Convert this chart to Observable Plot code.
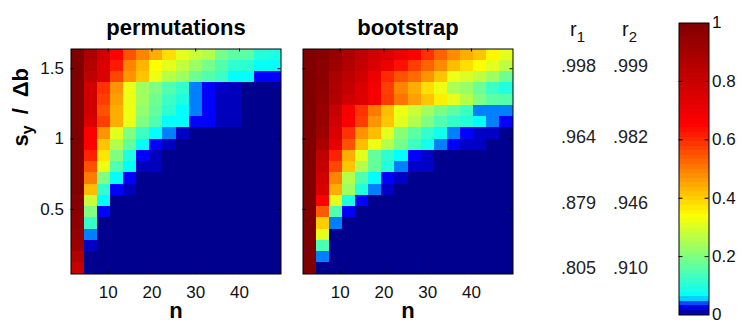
<!DOCTYPE html>
<html><head><meta charset="utf-8">
<script src="https://cdn.jsdelivr.net/npm/d3@7"></script>
<script src="https://cdn.jsdelivr.net/npm/@observablehq/plot@0.6"></script>
<style>
html,body{margin:0;padding:0;background:#fff;}
#chart{position:relative;width:740px;height:323px;overflow:hidden;}
#chart svg{position:absolute;left:0;top:0;}
</style></head><body><div id="chart"></div>
<script>
// ---- data ----
const nValues = [3,6,9,12,15,18,21,24,27,30,33,36,39,42,45,48];
// sy/Δb levels, rows listed from top (1.60) to bottom (0.08)
const sValues = [1.60,1.52,1.44,1.36,1.28,1.20,1.12,1.04,0.96,0.88,0.80,0.72,0.64,0.56,0.48,0.40,0.32,0.24,0.16,0.08];
const permutations = [
  [1.00,0.88,0.78,0.65,0.55,0.49,0.44,0.38,0.31,0.28,0.26,0.19,0.16,0.16,0.10,0.09],
  [1.00,0.86,0.75,0.62,0.49,0.43,0.34,0.31,0.27,0.23,0.19,0.15,0.11,0.11,0.065,0.065],
  [1.00,0.83,0.75,0.565,0.47,0.41,0.32,0.26,0.235,0.18,0.15,0.125,0.06,0.06,0.03,0.03],
  [1.00,0.78,0.59,0.47,0.32,0.235,0.20,0.15,0.115,0.045,0.03,0.015,0.012,0,0,0],
  [1.00,0.78,0.575,0.455,0.32,0.235,0.18,0.126,0.093,0.045,0.03,0.012,0.012,0,0,0],
  [1.00,0.78,0.55,0.44,0.32,0.22,0.17,0.11,0.06,0.045,0.03,0.012,0.012,0,0,0],
  [1.00,0.75,0.575,0.44,0.32,0.20,0.148,0.06,0.06,0.03,0.03,0.012,0.012,0,0,0],
  [1.00,0.65,0.47,0.31,0.20,0.126,0.06,0.045,0.015,0,0,0,0,0,0,0],
  [1.00,0.65,0.41,0.257,0.17,0.06,0.03,0.012,0,0,0,0,0,0,0,0],
  [1.00,0.61,0.37,0.20,0.093,0.03,0.012,0,0,0,0,0,0,0,0,0],
  [1.00,0.55,0.32,0.148,0.06,0.012,0.012,0,0,0,0,0,0,0,0,0],
  [1.00,0.50,0.20,0.06,0.03,0,0,0,0,0,0,0,0,0,0,0],
  [1.00,0.42,0.115,0.03,0.012,0,0,0,0,0,0,0,0,0,0,0],
  [0.98,0.28,0.06,0,0,0,0,0,0,0,0,0,0,0,0,0],
  [0.97,0.20,0.03,0,0,0,0,0,0,0,0,0,0,0,0,0],
  [0.96,0.12,0,0,0,0,0,0,0,0,0,0,0,0,0,0],
  [0.94,0.045,0,0,0,0,0,0,0,0,0,0,0,0,0,0],
  [0.92,0.015,0,0,0,0,0,0,0,0,0,0,0,0,0,0],
  [0.86,0,0,0,0,0,0,0,0,0,0,0,0,0,0,0],
  [0.80,0,0,0,0,0,0,0,0,0,0,0,0,0,0,0]
];
const bootstrap = [
  [1.00,0.98,0.94,0.88,0.83,0.78,0.75,0.70,0.65,0.59,0.53,0.48,0.44,0.41,0.35,0.31],
  [1.00,0.97,0.92,0.86,0.81,0.75,0.70,0.63,0.575,0.53,0.48,0.42,0.38,0.34,0.31,0.27],
  [1.00,0.97,0.88,0.83,0.78,0.70,0.60,0.55,0.52,0.47,0.41,0.32,0.30,0.27,0.235,0.18],
  [1.00,0.96,0.87,0.81,0.75,0.68,0.575,0.49,0.44,0.38,0.32,0.25,0.23,0.18,0.126,0.10],
  [1.00,0.95,0.86,0.78,0.74,0.68,0.58,0.51,0.455,0.41,0.36,0.31,0.26,0.20,0.16,0.15],
  [1.00,0.94,0.81,0.67,0.59,0.50,0.42,0.32,0.28,0.235,0.19,0.16,0.126,0.045,0.045,0.045],
  [1.00,0.94,0.78,0.66,0.575,0.47,0.41,0.31,0.257,0.20,0.148,0.115,0.10,0.06,0.045,0.03],
  [1.00,0.92,0.75,0.59,0.47,0.42,0.31,0.21,0.16,0.115,0.08,0.045,0.03,0.015,0.015,0],
  [1.00,0.88,0.72,0.55,0.42,0.32,0.257,0.19,0.126,0.08,0.045,0.03,0.015,0.015,0,0],
  [1.00,0.83,0.61,0.44,0.31,0.17,0.11,0.06,0.03,0.015,0,0,0,0,0,0],
  [1.00,0.81,0.565,0.41,0.257,0.17,0.10,0.045,0.015,0.015,0,0,0,0,0,0],
  [1.00,0.78,0.49,0.257,0.148,0.06,0.03,0.015,0,0,0,0,0,0,0,0],
  [1.00,0.75,0.44,0.235,0.10,0.045,0.015,0,0,0,0,0,0,0,0,0],
  [1.00,0.65,0.31,0.093,0.03,0,0,0,0,0,0,0,0,0,0,0],
  [1.00,0.54,0.148,0.03,0,0,0,0,0,0,0,0,0,0,0,0],
  [1.00,0.40,0.045,0,0,0,0,0,0,0,0,0,0,0,0,0],
  [1.00,0.31,0,0,0,0,0,0,0,0,0,0,0,0,0,0],
  [1.00,0.14,0,0,0,0,0,0,0,0,0,0,0,0,0,0],
  [1.00,0.045,0,0,0,0,0,0,0,0,0,0,0,0,0,0],
  [1.00,0,0,0,0,0,0,0,0,0,0,0,0,0,0,0]
];
const rLevels = [1.52, 1.01, 0.54, 0.08];
const r1 = [0.998, 0.964, 0.879, 0.805];
const r2 = [0.999, 0.982, 0.946, 0.910];
const rColumns = ["r1", "r2"];
const xTicks = [10, 20, 30, 40];
const yTicks = [0.5, 1, 1.5];
const cTicks = [0, 0.2, 0.4, 0.6, 0.8, 1];
const titles = ["permutations", "bootstrap"];
const xLabel = "n";
const yLabel = "sy / Δb";
const cmapStops = [0, 0.03, 0.045, 0.06, 0.34, 0.65, 1];
const cmapColors = ["#00008f", "#0000ff", "#0080ff", "#00ffff", "#ffff00", "#ff0000", "#800000"];
const cmapLevels = 64;

// ---- layout ----
const W = 740, H = 323;
const FONT = '"Liberation Sans", Arial, Helvetica, sans-serif';
const frameTop = 48.5, frameBottom = 273.5;
const panelW = 210;
const panelLefts = [70.5, 302.5];
const colorScale = {type: "linear", domain: cmapStops, range: cmapColors, interpolate: "rgb", clamp: true};

const dn = nValues[1] - nValues[0];
const ds = sValues[0] - sValues[1];
const xDomain = [d3.min(nValues) - dn / 2, d3.max(nValues) + dn / 2];
const yDomain = [d3.min(sValues) - ds / 2, d3.max(sValues) + ds / 2];

function cellsOf(grid) {
  const out = [];
  grid.forEach((row, i) => row.forEach((v, j) => out.push({
    n1: nValues[j] - dn / 2, n2: nValues[j] + dn / 2,
    s1: sValues[i] - ds / 2, s2: sValues[i] + ds / 2, v
  })));
  return out;
}

function base(opts) {
  return Object.assign({
    width: W, height: H,
    style: {background: "none", overflow: "visible", fontFamily: FONT, fontSize: "17px", color: "#111",
            position: "absolute", left: "0px", top: "0px", maxWidth: "none"}
  }, opts);
}

function subscript(svg, full, parts, shift, subSize) {
  svg.querySelectorAll("text").forEach(t => {
    if (t.textContent !== full) return;
    while (t.firstChild) t.removeChild(t.firstChild);
    let down = false;
    for (const [s, isSub] of parts) {
      const ts = document.createElementNS("http://www.w3.org/2000/svg", "tspan");
      ts.textContent = s;
      if (isSub) { if (!down) ts.setAttribute("dy", shift); ts.setAttribute("font-size", subSize); down = true; }
      else if (down) { ts.setAttribute("dy", -shift); down = false; }
      t.appendChild(ts);
    }
  });
}

function panel(grid, title, left, withY) {
  const ph = frameBottom - frameTop;
  const marks = [
    Plot.rect(cellsOf(grid), {x1: "n1", x2: "n2", y1: "s1", y2: "s2", fill: "v", shapeRendering: "crispEdges"}),
    Plot.tickX(xTicks, {x: d => d, insetTop: ph - 3, stroke: "#000"}),
    Plot.tickX(xTicks, {x: d => d, insetBottom: ph - 3, stroke: "#000"}),
    Plot.tickY(yTicks, {y: d => d, insetRight: panelW - 3, stroke: "#000"}),
    Plot.tickY(yTicks, {y: d => d, insetLeft: panelW - 3, stroke: "#000"}),
    Plot.frame({stroke: "#000"}),
    Plot.axisX(xTicks, {anchor: "bottom", tickSize: 0, tickPadding: 11.5, label: null, fontSize: 17}),
    Plot.text([title], {frameAnchor: "top", dy: -14.5, lineAnchor: "bottom", fontWeight: "bold", fontSize: 22, fill: "#000"}),
    Plot.text([xLabel], {frameAnchor: "bottom", dy: 44, lineAnchor: "bottom", fontWeight: "bold", fontSize: 22, fill: "#000"})
  ];
  if (withY) {
    marks.push(
      Plot.axisY(yTicks, {anchor: "left", tickSize: 0, tickPadding: 7, label: null, fontSize: 17, tickFormat: d => String(d)}),
      Plot.text([yLabel], {frameAnchor: "left", rotate: -90, dx: -50, dy: -15, fontWeight: "bold", fontSize: 22, fill: "#000"})
    );
  }
  const svg = Plot.plot(base({
    marginLeft: left, marginRight: W - left - panelW, marginTop: frameTop, marginBottom: H - frameBottom,
    x: {domain: xDomain, label: null},
    y: {domain: yDomain, label: null, axis: withY ? undefined : null},
    color: colorScale,
    marks
  }));
  if (withY) subscript(svg, yLabel, [["s", false], ["y", true], ["\u2002/\u2002Δb", false]], 5, 16);
  return svg;
}

const rTable = rLevels.flatMap((s, i) => [{col: "r1", s, r: r1[i]}, {col: "r2", s, r: r2[i]}]);
const fmt = v => d3.format(".3f")(v).replace(/^0/, "");

function rPanel() {
  const svg = Plot.plot(base({
    marginLeft: 578, marginRight: W - 630, marginTop: frameTop, marginBottom: H - frameBottom,
    x: {type: "point", domain: rColumns, padding: 0, axis: null},
    y: {domain: yDomain, axis: null},
    marks: [
      Plot.text(rTable, {x: "col", y: "s", text: d => fmt(d.r), fontSize: 18, fill: "#222"}),
      Plot.text(rColumns, {x: d => d, frameAnchor: "top", dy: -13, dx: -1, lineAnchor: "bottom", fontSize: 20, fill: "#111"})
    ]
  }));
  subscript(svg, "r1", [["r", false], ["1", true]], 6, 15);
  subscript(svg, "r2", [["r", false], ["2", true]], 6, 15);
  return svg;
}

function colorbar() {
  const levels = d3.range(cmapLevels);
  const bw = 30;
  return Plot.plot(base({
    marginLeft: 678.5, marginRight: W - 708.5, marginTop: 22.5, marginBottom: H - 314.5,
    x: {domain: [0, 1], axis: null},
    y: {domain: [0, 1], axis: null},
    color: colorScale,
    marks: [
      Plot.rect(levels, {x1: 0, x2: 1, y1: d => d / cmapLevels, y2: d => (d + 1) / cmapLevels, fill: d => (d + 0.5) / cmapLevels, shapeRendering: "crispEdges"}),
      Plot.tickY(cTicks.slice(1, -1), {y: d => d, insetRight: bw - 4, stroke: "#000"}),
      Plot.tickY(cTicks.slice(1, -1), {y: d => d, insetLeft: bw - 4, stroke: "#000"}),
      Plot.frame({stroke: "#000"}),
      Plot.axisY(cTicks, {anchor: "right", tickSize: 0, tickPadding: 3, label: null, fontSize: 17,
        tickFormat: d => (d === 0 || d === 1) ? String(d) : d.toFixed(1)})
    ]
  }));
}

const chart = document.getElementById("chart");
chart.appendChild(panel(permutations, titles[0], panelLefts[0], true));
chart.appendChild(panel(bootstrap, titles[1], panelLefts[1], false));
chart.appendChild(rPanel());
chart.appendChild(colorbar());
</script></body></html>
